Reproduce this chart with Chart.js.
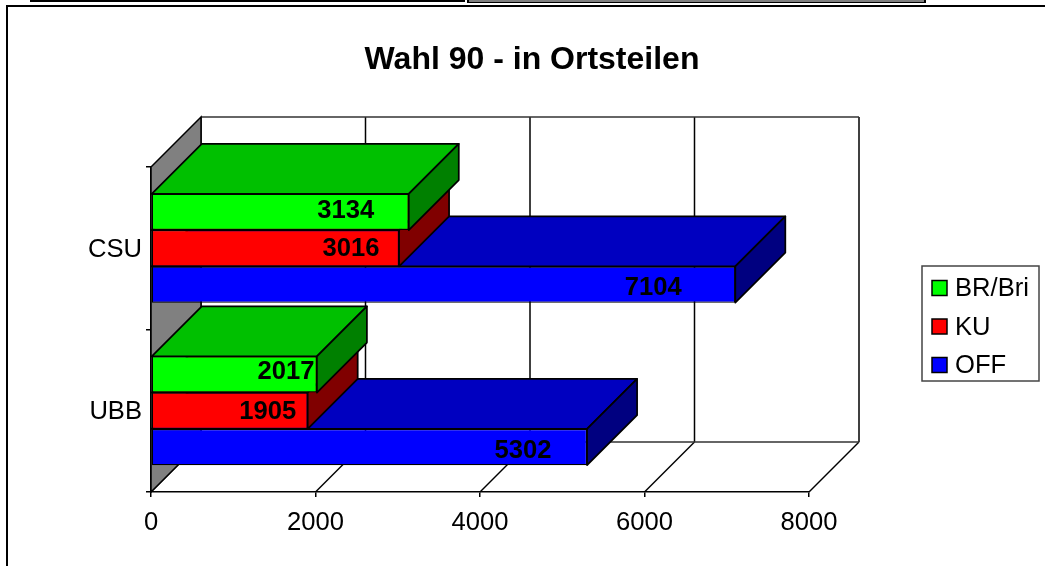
<!DOCTYPE html>
<html lang="de">
<head>
    <meta charset="UTF-8">
    <title>Wahl 90 - in Ortsteilen</title>
    <script src="https://cdnjs.cloudflare.com/ajax/libs/Chart.js/4.4.1/chart.umd.min.js"></script>
    <style>
        html, body { margin: 0; padding: 0; width: 1045px; height: 566px; overflow: hidden; background: #fff; }
        #frame { position: absolute; left: 6px; top: 5px; width: 1200px; height: 700px; border: 2px solid #000; box-sizing: border-box; }
        .tab { position: absolute; top: 0; box-sizing: border-box; }
        #tab1 { left: 30px; width: 435px; height: 2px; background: #000; }
        #tab2 { left: 467px; width: 459px; height: 3px; background: #808080; border: 2px solid #000; border-top: 0; border-bottom-width: 1px; }
        #chart { position: absolute; left: 0; top: 0; }
    </style>
</head>
<body>
    <div id="frame"></div>
    <div class="tab" id="tab1"></div>
    <div class="tab" id="tab2"></div>
    <canvas id="chart" width="1064" height="566"></canvas>

    <script>
        const categories = ['CSU', 'UBB'];
        const seriesNames = ['BR/Bri', 'KU', 'OFF'];
        const brBri = [3134, 2017];
        const ku = [3016, 1905];
        const off = [7104, 5302];
        const axisTicks = [0, 2000, 4000, 6000, 8000];

        const FONT = '"Liberation Sans", Arial, sans-serif';
        const DEPTH = 50;
        const frontColors = ['#00ff00', '#ff0000', '#0000ff'];
        const topColors = ['#00c000', '#c00000', '#0000c0'];
        const sideColors = ['#008000', '#800000', '#000080'];

        // the labels in the original sit at odd spots on the bars, pixels from bar end / centre
        const labelShiftX = [[63, 48, 82], [31, 40, 64]];
        const labelShiftY = [[-2, 0, 2], [-4, 0, 3]];

        function poly(ctx, pts, fill, stroke, width) {
            ctx.beginPath();
            pts.forEach((p, i) => i ? ctx.lineTo(p[0], p[1]) : ctx.moveTo(p[0], p[1]));
            ctx.closePath();
            if (fill) { ctx.fillStyle = fill; ctx.fill(); }
            if (stroke) { ctx.strokeStyle = stroke; ctx.lineWidth = width || 1.75; ctx.stroke(); }
        }

        function line(ctx, x1, y1, x2, y2, color) {
            ctx.beginPath();
            ctx.moveTo(x1, y1);
            ctx.lineTo(x2, y2);
            ctx.strokeStyle = color || '#000';
            ctx.lineWidth = 1.5;
            ctx.stroke();
        }

        // title has to centre on the whole frame, not on what the right padding leaves
        const titlePlugin = {
            id: 'titleSpan',
            afterLayout(chart) {
                chart.titleBlock.left = 0;
                chart.titleBlock.right = chart.width;
            }
        };

        // walls and floor behind the bars
        const wallsPlugin = {
            id: 'walls',
            beforeDatasetsDraw(chart) {
                const ctx = chart.ctx;
                const { left, right, top, bottom } = chart.chartArea;
                ctx.save();
                axisTicks.forEach(v => {
                    const x = chart.scales.x.getPixelForValue(v);
                    line(ctx, x + DEPTH, top - DEPTH, x + DEPTH, bottom - DEPTH);
                    line(ctx, x, bottom, x + DEPTH, bottom - DEPTH);
                });
                line(ctx, left + DEPTH, top - DEPTH, right + DEPTH, top - DEPTH, '#333');
                line(ctx, left + DEPTH, bottom - DEPTH, right + DEPTH, bottom - DEPTH, '#333');
                poly(ctx, [[left, top], [left + DEPTH, top - DEPTH], [left + DEPTH, bottom - DEPTH], [left, bottom]], '#808080', '#000', 1.5);
                ctx.restore();
            }
        };

        // top and side face of each bar, the front face is the normal bar element
        const depthPlugin = {
            id: 'depth',
            beforeDatasetDraw(chart, args) {
                const ctx = chart.ctx;
                const i = args.index;
                ctx.save();
                ctx.lineJoin = 'round';
                args.meta.data.forEach(bar => {
                    const x0 = bar.base, x1 = bar.x;
                    const y0 = bar.y - bar.height / 2, y1 = bar.y + bar.height / 2;
                    poly(ctx, [[x0, y0], [x0 + DEPTH, y0 - DEPTH], [x1 + DEPTH, y0 - DEPTH], [x1, y0]], topColors[i], '#000');
                    poly(ctx, [[x1, y0], [x1 + DEPTH, y0 - DEPTH], [x1 + DEPTH, y1 - DEPTH], [x1, y1]], sideColors[i], '#000');
                });
                ctx.restore();
            },
            afterDatasetsDraw(chart) {
                const ctx = chart.ctx;
                ctx.save();
                ctx.font = 'bold 25.6px ' + FONT;
                ctx.fillStyle = '#000';
                ctx.textAlign = 'center';
                ctx.textBaseline = 'middle';
                chart.data.datasets.forEach((ds, i) => {
                    chart.getDatasetMeta(i).data.forEach((bar, c) => {
                        ctx.fillText(ds.data[c], bar.x - labelShiftX[c][i], bar.y + labelShiftY[c][i] + 1);
                    });
                });
                ctx.restore();
            }
        };

        const legendPlugin = {
            id: 'legendBox',
            afterDraw(chart) {
                const ctx = chart.ctx;
                ctx.save();
                ctx.strokeStyle = '#444';
                ctx.lineWidth = 1.5;
                ctx.strokeRect(922, 266, 117, 115);
                ctx.font = '25.6px ' + FONT;
                ctx.textBaseline = 'middle';
                seriesNames.forEach((name, i) => {
                    const y = 288 + i * 38.5;
                    ctx.fillStyle = frontColors[i];
                    ctx.fillRect(932, y - 7.5, 15, 15);
                    ctx.strokeStyle = '#000';
                    ctx.strokeRect(932, y - 7.5, 15, 15);
                    ctx.fillStyle = '#000';
                    ctx.fillText(name, 955, y + 1);
                });
                ctx.restore();
            }
        };

        function bars(label, data, color) {
            return {
                label: label,
                data: data,
                backgroundColor: color,
                borderColor: '#000',
                borderWidth: 1.25,
                borderSkipped: false,
                categoryPercentage: 0.67,
                barPercentage: 1
            };
        }

        new Chart(document.getElementById('chart'), {
            type: 'bar',
            data: {
                labels: categories,
                datasets: [
                    bars(seriesNames[0], brBri, frontColors[0]),
                    bars(seriesNames[1], ku, frontColors[1]),
                    bars(seriesNames[2], off, frontColors[2])
                ]
            },
            options: {
                indexAxis: 'y',
                responsive: false,
                animation: false,
                clip: false,
                layout: { padding: { left: 0, right: 255, top: 0, bottom: 24 } },
                plugins: {
                    legend: { display: false },
                    tooltip: { enabled: false },
                    title: {
                        display: true,
                        text: 'Wahl 90 - in Ortsteilen',
                        color: '#000',
                        font: { family: FONT, size: 32, weight: 'bold', lineHeight: 1.2 },
                        padding: { top: 41, bottom: 87.6 }
                    }
                },
                scales: {
                    x: {
                        min: 0,
                        max: 8000,
                        afterFit: s => { s.height = 50; },
                        ticks: {
                            stepSize: 2000,
                            color: '#000',
                            padding: 11,
                            maxRotation: 0,
                            font: { family: FONT, size: 25.6 },
                            callback: v => String(v)
                        },
                        grid: { drawOnChartArea: false, color: '#000', tickLength: 5, lineWidth: 1.5 },
                        border: { color: '#000', width: 1.5 }
                    },
                    y: {
                        afterFit: s => { s.width = 151; },
                        ticks: { color: '#000', padding: 4, labelOffset: 1.5, font: { family: FONT, size: 25.6 } },
                        grid: { drawOnChartArea: false, color: '#000', tickLength: 5, lineWidth: 1.5, offset: true },
                        border: { color: '#000', width: 1.5 }
                    }
                }
            },
            plugins: [titlePlugin, wallsPlugin, depthPlugin, legendPlugin]
        });
    </script>
</body>
</html>
